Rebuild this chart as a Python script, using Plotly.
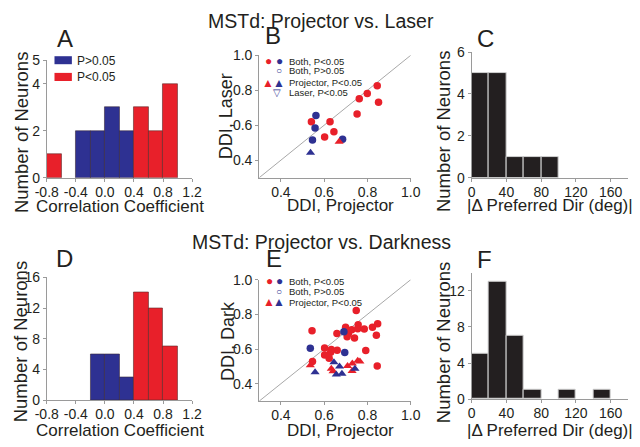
import plotly.graph_objects as go

W, H = 640, 447
FONT = "Liberation Sans, Arial, sans-serif"
TXT = "#231f20"
RED = "#E8202A"
BLUE = "#2E3192"
AX = "#9a9a9a"

# ---------------- data ----------------
corr_centers = [-0.7, -0.5, -0.3, -0.1, 0.1, 0.3, 0.5, 0.7, 0.9]
a_blue = [0, 0, 2, 2, 3, 2, 0, 0, 0]
a_red = [1, 0, 0, 0, 0, 0, 3, 2, 4]
d_blue = [0, 0, 0, 6, 6, 3, 0, 0, 0]
d_red = [0, 0, 0, 0, 0, 0, 14, 12, 7]

dir_centers = [10, 30, 50, 70, 90, 110, 130, 150, 170]
c_counts = [5, 5, 1, 1, 1, 0, 0, 0, 0]
f_counts = [5, 13, 7, 1, 0, 1, 0, 1, 0]

corr_ticks = [-0.8, -0.4, 0.0, 0.4, 0.8, 1.2]
corr_ticktext = ["-0.8", "-0.4", "0.0", "0.4", "0.8", "1.2"]
ddi_ticks = [0.4, 0.6, 0.8, 1.0]
ddi_ticktext = ["0.4", "0.6", "0.8", "1.0"]
dir_ticks = [0, 40, 80, 120, 160]

# Panel B (Projector vs Laser)
b_both_sig_red_x = [0.541, 0.627, 0.645, 0.602, 0.752, 0.762, 0.799, 0.845, 0.851]
b_both_sig_red_y = [0.620, 0.620, 0.563, 0.532, 0.664, 0.752, 0.782, 0.826, 0.732]
b_both_sig_blue_x = [0.562, 0.558, 0.546, 0.685]
b_both_sig_blue_y = [0.655, 0.584, 0.516, 0.520]
b_both_ns_x = [0.448, 0.488, 0.544]
b_both_ns_y = [0.500, 0.518, 0.467]
b_proj_red_x = [0.669]
b_proj_red_y = [0.505]
b_proj_blue_x = [0.537]
b_proj_blue_y = [0.443]
b_laser_x = [0.501]
b_laser_y = [0.598]

# Panel E (Projector vs Darkness)
e_both_sig_red_x = [0.748, 0.544, 0.699, 0.659, 0.712, 0.727, 0.757, 0.755, 0.785, 0.823,
                    0.847, 0.706, 0.740, 0.841, 0.792, 0.845, 0.602, 0.633, 0.660, 0.630,
                    0.602, 0.623, 0.546]
e_both_sig_red_y = [0.822, 0.706, 0.726, 0.689, 0.690, 0.711, 0.740, 0.717, 0.716, 0.726,
                    0.746, 0.671, 0.663, 0.680, 0.592, 0.502, 0.606, 0.598, 0.593, 0.582,
                    0.565, 0.547, 0.528]
e_both_sig_blue_x = [0.536, 0.691, 0.695]
e_both_sig_blue_y = [0.604, 0.699, 0.580]
e_both_ns_x = [0.499, 0.544, 0.540]
e_both_ns_y = [0.483, 0.430, 0.404]
e_proj_red_x = [0.536, 0.633, 0.641, 0.708, 0.729, 0.730, 0.755, 0.765]
e_proj_red_y = [0.506, 0.486, 0.472, 0.502, 0.474, 0.516, 0.532, 0.528]
e_proj_blue_x = [0.558, 0.645, 0.671, 0.656, 0.682, 0.742]
e_proj_blue_y = [0.467, 0.524, 0.500, 0.454, 0.458, 0.487]

identity_x = [0.3, 1.0]
identity_y = [0.3, 1.0]


def px_x(p):
    return p / W


def px_y(p):
    return 1 - p / H


fig = go.Figure()


def nz(xs, ys):
    pts = [(x, y) for x, y in zip(xs, ys) if y > 0]
    return [p[0] for p in pts], [p[1] for p in pts]


# histograms A and D
for ax, blue, red in (("", a_blue, a_red), ("4", d_blue, d_red)):
    x, y = nz(corr_centers, blue)
    fig.add_trace(go.Bar(x=x, y=y, width=0.2, marker=dict(color=BLUE, line=dict(color="#3a2a3a", width=0.6)),
                         xaxis="x" + ax, yaxis="y" + ax, showlegend=False))
    x, y = nz(corr_centers, red)
    fig.add_trace(go.Bar(x=x, y=y, width=0.2, marker=dict(color=RED, line=dict(color="#5a2a2a", width=0.6)),
                         xaxis="x" + ax, yaxis="y" + ax, showlegend=False))

# histograms C and F
for ax, cnt in (("3", c_counts), ("6", f_counts)):
    x, y = nz(dir_centers, cnt)
    fig.add_trace(go.Bar(x=x, y=y, width=20, marker=dict(color="#231f20", line=dict(color="#d0d0d0", width=1)),
                         xaxis="x" + ax, yaxis="y" + ax, showlegend=False))


def sc(x, y, ax, symbol, color, size=7.5, open_=False):
    if open_:
        m = dict(symbol=symbol, size=size, color="rgba(0,0,0,0)", line=dict(color=color, width=1))
    else:
        m = dict(symbol=symbol, size=size, color=color, line=dict(width=0))
    fig.add_trace(go.Scatter(x=x, y=y, mode="markers", marker=m, xaxis="x" + ax, yaxis="y" + ax,
                             showlegend=False, hoverinfo="x+y"))


for ax in ("2", "5"):
    fig.add_trace(go.Scatter(x=identity_x, y=identity_y, mode="lines", line=dict(color="#a8a8a8", width=1),
                             xaxis="x" + ax, yaxis="y" + ax, showlegend=False, hoverinfo="skip"))

sc(b_both_sig_red_x, b_both_sig_red_y, "2", "circle", RED)
sc(b_both_sig_blue_x, b_both_sig_blue_y, "2", "circle", BLUE)
sc(b_both_ns_x, b_both_ns_y, "2", "circle-open", BLUE, size=6.5, open_=True)
sc(b_proj_red_x, b_proj_red_y, "2", "triangle-up", RED, size=8)
sc(b_proj_blue_x, b_proj_blue_y, "2", "triangle-up", BLUE, size=8)
sc(b_laser_x, b_laser_y, "2", "triangle-down-open", BLUE, size=8, open_=True)

sc(e_both_sig_red_x, e_both_sig_red_y, "5", "circle", RED)
sc(e_both_sig_blue_x, e_both_sig_blue_y, "5", "circle", BLUE)
sc(e_both_ns_x, e_both_ns_y, "5", "circle-open", BLUE, size=6.5, open_=True)
sc(e_proj_red_x, e_proj_red_y, "5", "triangle-up", RED, size=8)
sc(e_proj_blue_x, e_proj_blue_y, "5", "triangle-up", BLUE, size=8)


def axis(px0, px1, rng, tickvals, ticktext=None, horizontal=True):
    if horizontal:
        dom = [px_x(px0), px_x(px1)]
    else:
        dom = [px_y(px1), px_y(px0)]
    d = dict(domain=dom, range=rng, showline=True, linecolor=AX, linewidth=1,
             ticks="outside", ticklen=3, tickcolor=AX, showgrid=False, zeroline=False,
             tickvals=tickvals, tickfont=dict(size=14, color=TXT, family=FONT), fixedrange=True)
    if horizontal:
        d["ticklabelstandoff"] = -2
    if ticktext is not None:
        d["ticktext"] = ticktext
    return d


lay = {}
# A
lay["xaxis"] = axis(36, 186.5, [-0.8, 1.2], corr_ticks, corr_ticktext)
lay["yaxis"] = axis(54, 176, [0, 5], [0, 2, 4, 5], None, horizontal=False)
lay["xaxis"]["anchor"] = "y"; lay["yaxis"]["anchor"] = "x"
# B
lay["xaxis2"] = axis(256, 413, [0.3, 1.0], ddi_ticks, ddi_ticktext)
lay["yaxis2"] = axis(49, 176, [0.3, 1.0], ddi_ticks, ddi_ticktext, horizontal=False)
lay["xaxis2"]["anchor"] = "y2"; lay["yaxis2"]["anchor"] = "x2"
# C
lay["xaxis3"] = axis(476, 638, [0, 180], dir_ticks)
lay["yaxis3"] = axis(45.7, 176, [0, 6], [0, 2, 4, 6], None, horizontal=False)
lay["xaxis3"]["anchor"] = "y3"; lay["yaxis3"]["anchor"] = "x3"
# D
lay["xaxis4"] = axis(36, 186.5, [-0.8, 1.2], corr_ticks, corr_ticktext)
lay["yaxis4"] = axis(279.3, 406.7, [0, 16], [0, 4, 8, 12, 16], None, horizontal=False)
lay["xaxis4"]["anchor"] = "y4"; lay["yaxis4"]["anchor"] = "x4"
# E
lay["xaxis5"] = axis(256, 413, [0.3, 1.0], ddi_ticks, ddi_ticktext)
lay["yaxis5"] = axis(281.7, 407.7, [0.3, 1.0], ddi_ticks, ddi_ticktext, horizontal=False)
lay["xaxis5"]["anchor"] = "y5"; lay["yaxis5"]["anchor"] = "x5"
# F
lay["xaxis6"] = axis(476, 638, [0, 180], dir_ticks)
lay["yaxis6"] = axis(274.6, 405.7, [0, 14], [0, 4, 8, 12], None, horizontal=False)
lay["xaxis6"]["anchor"] = "y6"; lay["yaxis6"]["anchor"] = "x6"

anns = []


def txt(text, x, y, size, angle=0, xanchor="center", color=TXT):
    anns.append(dict(text=text, x=px_x(x), y=px_y(y), xref="paper", yref="paper", showarrow=False,
                     xanchor=xanchor, yanchor="middle", textangle=angle,
                     font=dict(size=size, color=color, family=FONT)))


# titles
txt("MSTd: Projector vs. Laser", 320, 13, 19.5)
txt("MSTd: Projector vs. Darkness", 320, 243, 19.5)
# panel letters
for L, x, y in (("A", 55, 32), ("B", 270, 29), ("C", 490, 32), ("D", 54, 260), ("E", 271, 260), ("F", 489, 261)):
    txt(L, x, y, 24)
# axis titles
txt("Number of Neurons", 10, 129, 18.5, angle=-90)
txt("Correlation Coefficient", 112, 206, 17)
txt("DDI, Laser", 222, 112, 18, angle=-90)
txt("DDI, Projector", 340, 205, 17)
txt("Number of Neurons", 447, 128, 18.5, angle=-90)
txt("|Δ Preferred Dir (deg)|", 557, 205, 17)
txt("Number of Neurons", 9, 346, 18.5, angle=-90)
txt("Correlation Coefficient", 112, 438, 17)
txt("DDI, Dark", 223, 345, 18, angle=-90)
txt("DDI, Projector", 340, 438, 17)
txt("Number of Neurons", 447, 347, 18.5, angle=-90)
txt("|Δ Preferred Dir (deg)|", 557, 438, 17)

# legend A
shapes = [
    dict(type="rect", xref="paper", yref="paper", x0=px_x(44), x1=px_x(62), y0=px_y(58.3), y1=px_y(50),
         fillcolor=BLUE, line=dict(width=0)),
    dict(type="rect", xref="paper", yref="paper", x0=px_x(44), x1=px_x(62), y0=px_y(75.7), y1=px_y(67.3),
         fillcolor=RED, line=dict(width=0)),
]
txt("P&gt;0.05", 65, 54.5, 12, xanchor="left")
txt("P&lt;0.05", 65, 71.5, 12, xanchor="left")

# legends B and E
LS = 9.5
MS = 12
legB = [
    (55, [("●", RED, 266), ("●", BLUE, 277)], "Both, P&lt;0.05"),
    (65, [("○", BLUE, 276.5)], "Both, P&gt;0.05"),
    (77.3, [("▲", RED, 265.5), ("▲", BLUE, 276)], "Projector, P&lt;0.05"),
    (87.3, [("▽", BLUE, 274.5)], "Laser, P&lt;0.05"),
]
legE = [
    (283.3, [("●", RED, 267), ("●", BLUE, 277)], "Both, P&lt;0.05"),
    (294.3, [("○", BLUE, 276.5)], "Both, P&gt;0.05"),
    (305.3, [("▲", RED, 266.5), ("▲", BLUE, 276.5)], "Projector, P&lt;0.05"),
]
for leg in (legB, legE):
    for y, marks, label in leg:
        for ch, col, x in marks:
            txt(ch, x, y, MS if ch in "●▲" else 10, color=col)
        txt(label, 284.5, y, LS, xanchor="left")

lay["annotations"] = anns
lay["shapes"] = shapes
fig.update_layout(**lay)
fig.update_layout(width=W, height=H, margin=dict(l=0, r=0, t=0, b=0), paper_bgcolor="white",
                  plot_bgcolor="white", bargap=0, font=dict(family=FONT, color=TXT), showlegend=False)

fig.write_html("out.html", config={"displayModeBar": False},
               post_script="document.body.style.margin='0';document.body.style.padding='0';document.body.style.overflow='hidden';")
